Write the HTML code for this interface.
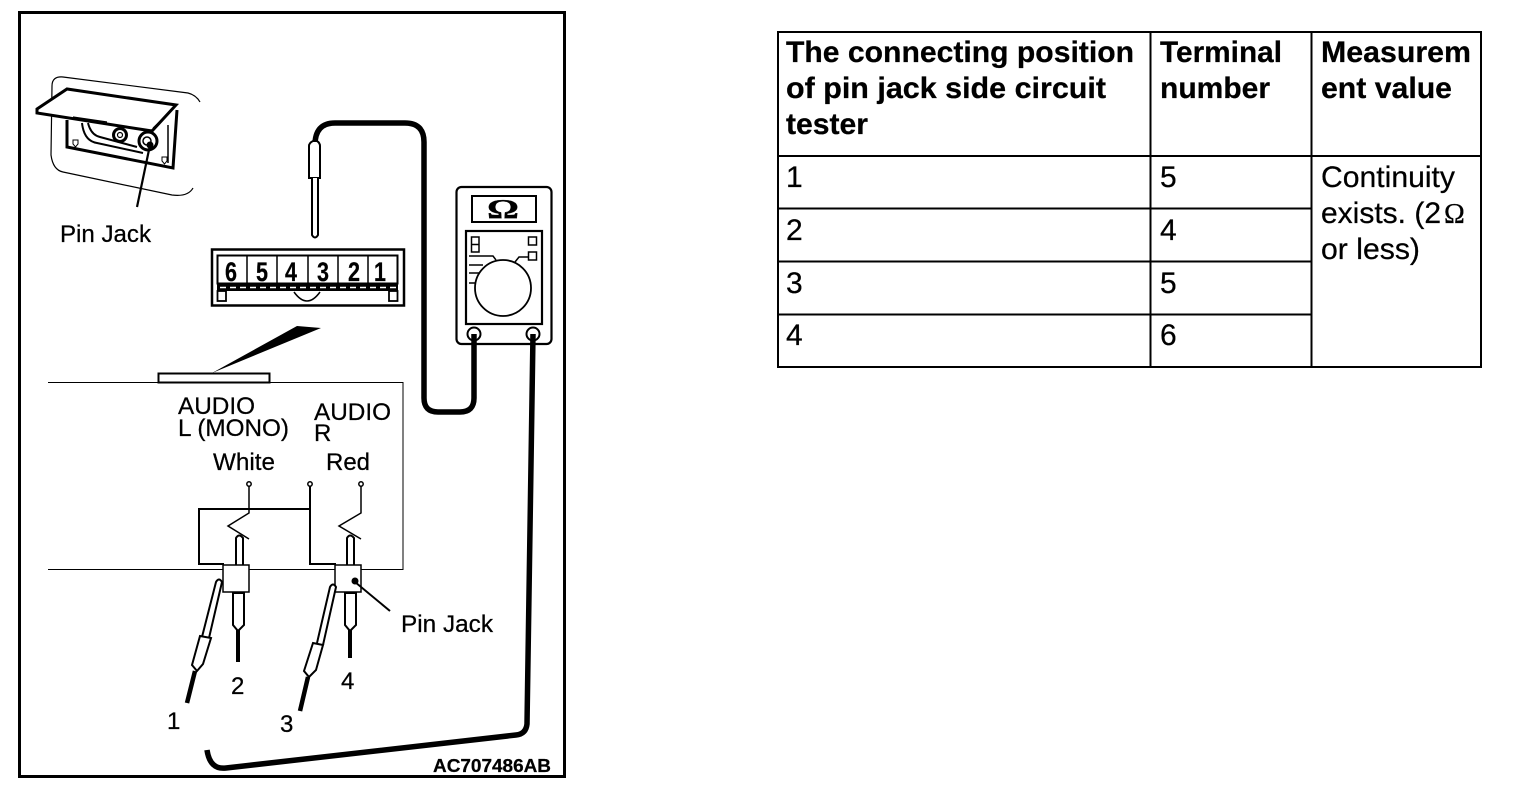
<!DOCTYPE html>
<html>
<head>
<meta charset="utf-8">
<title>Pin jack continuity check</title>
<style>
html,body{margin:0;padding:0;background:#fff;width:1520px;height:790px;overflow:hidden}
svg{display:block}
text{font-family:"Liberation Sans",sans-serif;fill:#000;stroke:#000;stroke-width:.25px}
.t{font-size:30px}
.b{font-weight:bold}
.l{font-size:24px}
</style>
</head>
<body>
<svg width="1520" height="790" viewBox="0 0 1520 790" xmlns="http://www.w3.org/2000/svg">
<rect width="1520" height="790" fill="#fff"/>

<!-- frame -->
<rect x="19.500" y="12.500" width="545" height="764" fill="none" stroke="#000" stroke-width="3"/>

<!-- pin jack panel -->
<g fill="none" stroke="#000">
  <path d="M200 102Q196 95 188 93L63 77Q52 76 52 86L51 155Q53 170 63 172L172 195Q188 197 193 188" stroke-width="1.200"/>
  <path d="M67 120V147L173 168L177 110" stroke-width="3"/>
  <path d="M168 125V163" stroke-width="1.500"/>
  <path d="M82 123Q84 141 97 143L143 153M88 123Q91 135 100 137L137 147" stroke-width="2"/>
  <circle cx="120" cy="135" r="6.500" stroke-width="3"/>
  <circle cx="120" cy="135" r="2.500" stroke-width="1.200"/>
  <circle cx="148" cy="141" r="9" stroke-width="3"/>
  <circle cx="147" cy="141" r="4" stroke-width="1.500"/>
  <path d="M73 140h5v4l-2.500 3l-2.500-3zM162 157h5v4l-2.500 3l-2.500-3z" stroke-width="1"/>
  <path d="M37 109L67 89L176 105L152 131L37 113Z" fill="#fff" stroke-width="3"/>
  <path d="M174 108L153 128" stroke-width="1"/>
  <path d="M73 117L107 122M73 119L107 124" stroke-width="1.200"/>
  <path d="M150 145L137 207" stroke-width="2.200"/>
</g>
<circle cx="150" cy="145" r="3.500" fill="#000"/>
<text class="l" x="60" y="242" textLength="91" lengthAdjust="spacingAndGlyphs">Pin Jack</text>

<!-- upper cable + probe -->
<path d="M474 338V398Q474 412 460 412H438Q424 412 424 398V142Q424 123 405 123H335Q315 123 315 145" fill="none" stroke="#000" stroke-width="5.500"/>
<path d="M309 178V146Q309 143 313 141H317Q320 143 320 146V178Z" fill="#fff" stroke="#000" stroke-width="2"/>
<path d="M312 178V235Q315 240 318 235V178" fill="#fff" stroke="#000" stroke-width="2"/>

<!-- connector -->
<g fill="none" stroke="#000">
  <rect x="212" y="249.500" width="192" height="56" stroke-width="2.500"/>
  <rect x="217.500" y="255.500" width="180" height="28" stroke-width="2"/>
  <path d="M247 255V284M277 255V284M308 255V284M338 255V284M368 255V284" stroke-width="1.500"/>
  <rect x="217" y="284" width="181" height="7" fill="#000" stroke="none"/>
  <path d="M220 287.500H396" stroke="#fff" stroke-width="1.500" stroke-dasharray="6 4"/>
  <rect x="217.500" y="291" width="8.500" height="10" stroke-width="1.800"/>
  <rect x="389" y="291" width="8.500" height="10" stroke-width="1.800"/>
  <path d="M294 292Q307 310 320 292" stroke-width="1.500"/>
</g>
<g style="font-weight:bold;font-size:27px">
  <text x="225" y="281" textLength="12" lengthAdjust="spacingAndGlyphs">6</text>
  <text x="256" y="281" textLength="12" lengthAdjust="spacingAndGlyphs">5</text>
  <text x="285" y="281" textLength="12" lengthAdjust="spacingAndGlyphs">4</text>
  <text x="317" y="281" textLength="12" lengthAdjust="spacingAndGlyphs">3</text>
  <text x="348" y="281" textLength="12" lengthAdjust="spacingAndGlyphs">2</text>
  <text x="374" y="281" textLength="12" lengthAdjust="spacingAndGlyphs">1</text>
</g>

<!-- wedge -->
<path d="M321 328L297 326L212 373Z" fill="#000"/>

<!-- unit box -->
<path d="M48 382.500H403V569.500H48" fill="none" stroke="#000" stroke-width="1"/>
<rect x="158.500" y="373.500" width="111" height="9" fill="#fff" stroke="#000" stroke-width="2"/>

<text class="l" x="178" y="414" textLength="77" lengthAdjust="spacingAndGlyphs">AUDIO</text>
<text class="l" x="178" y="436" textLength="111" lengthAdjust="spacingAndGlyphs">L (MONO)</text>
<text class="l" x="314" y="420" textLength="77" lengthAdjust="spacingAndGlyphs">AUDIO</text>
<text class="l" x="314" y="441">R</text>
<text class="l" x="213" y="470" textLength="62" lengthAdjust="spacingAndGlyphs">White</text>
<text class="l" x="326" y="470" textLength="44" lengthAdjust="spacingAndGlyphs">Red</text>

<!-- circuit -->
<g fill="none" stroke="#000">
  <circle cx="249" cy="484" r="2.200" stroke-width="1.500"/>
  <circle cx="310" cy="484" r="2.200" stroke-width="1.500"/>
  <circle cx="361" cy="484" r="2.200" stroke-width="1.500"/>
  <path d="M249 486V513L228 526L249 539" stroke-width="1.500"/>
  <path d="M361 486V513L339 526L361 539" stroke-width="1.500"/>
  <path d="M310 486V564H336" stroke-width="2"/>
  <path d="M310 509H199V564H224" stroke-width="2"/>
  <path d="M236 565V538Q239 533 243 538V565" stroke-width="2"/>
  <path d="M347 565V538Q350 533 354 538V565" stroke-width="2"/>
  <rect x="223" y="565" width="26" height="27" fill="#fff" stroke-width="1.500"/>
  <rect x="335" y="565" width="26" height="27" fill="#fff" stroke-width="1.500"/>
  <!-- lower vertical probes -->
  <path d="M233 593V625L238 631L244 625V593Z" fill="#fff" stroke-width="2"/>
  <path d="M238 630V662" stroke-width="4"/>
  <path d="M345 593V625L350 631L356 625V593Z" fill="#fff" stroke-width="2"/>
  <path d="M350 630V658" stroke-width="4"/>
  <!-- slanted probe 1 -->
  <path d="M202 637L216 582Q219 577 222 582L209 638" fill="#fff" stroke-width="2"/>
  <path d="M200 636L211 638L203 664L197 671L192 665Z" fill="#fff" stroke-width="2"/>
  <path d="M195 671L187 703" stroke-width="4.500"/>
  <!-- slanted probe 3 -->
  <path d="M317 643L330 587Q333 582 336 587L323 645" fill="#fff" stroke-width="2"/>
  <path d="M313 643L323 645L316 670L309 677L304 671Z" fill="#fff" stroke-width="2"/>
  <path d="M308 677L300 711" stroke-width="4.500"/>
  <!-- leader -->
  <path d="M355 582L390 611" stroke-width="2"/>
</g>
<circle cx="355" cy="581" r="3.500" fill="#000"/>
<text class="l" x="401" y="632" textLength="92" lengthAdjust="spacingAndGlyphs">Pin Jack</text>
<text class="l" x="167" y="729">1</text>
<text class="l" x="231" y="694">2</text>
<text class="l" x="280" y="732">3</text>
<text class="l" x="341" y="689">4</text>

<!-- multimeter -->
<g fill="none" stroke="#000">
  <rect x="456.500" y="187" width="95" height="157" rx="5" fill="#fff" stroke-width="2.200"/>
  <rect x="472" y="196" width="64" height="26" stroke-width="2"/>
  <rect x="466" y="231" width="76" height="93" stroke-width="2.200"/>
  <circle cx="503" cy="288" r="28" stroke-width="1.800"/>
  <path d="M471.500 237H479V252H471.500ZM471.500 244.500H479" stroke-width="1.500"/>
  <rect x="528.500" y="237" width="8" height="8" stroke-width="1.500"/>
  <rect x="528.500" y="252" width="8" height="8" stroke-width="1.500"/>
  <path d="M469 256H493L496 260M515 262L519 257H528M469 265H483M469 273H479M469 283H476" stroke-width="1.500"/>
  <circle cx="474" cy="334" r="6.500" fill="#fff" stroke-width="2"/>
  <circle cx="533" cy="334" r="6.500" fill="#fff" stroke-width="2"/>
</g>
<text x="487" y="218" style="font-family:'Liberation Serif',serif;font-weight:bold;font-size:27px" textLength="32" lengthAdjust="spacingAndGlyphs">Ω</text>

<!-- lower cable -->
<path d="M533 334L527 724Q526 734 516 735L226 768Q210 770 207 750" fill="none" stroke="#000" stroke-width="5.500"/>
<path d="M474 334V345" stroke="#000" stroke-width="5.500"/>

<text x="433" y="772" class="b" style="font-size:18px" textLength="118" lengthAdjust="spacingAndGlyphs">AC707486AB</text>

<!-- table -->
<g fill="none" stroke="#000" stroke-width="2">
  <rect x="778" y="32" width="703" height="335"/>
  <path d="M1150.500 32V367M1311.500 32V367M778 156H1481M778 208.500H1311M778 261.500H1311M778 314.500H1311"/>
</g>
<g class="t">
  <text class="b" x="786" y="62" textLength="348" lengthAdjust="spacingAndGlyphs">The connecting position</text>
  <text class="b" x="786" y="98" textLength="320" lengthAdjust="spacingAndGlyphs">of pin jack side circuit</text>
  <text class="b" x="786" y="134" textLength="82" lengthAdjust="spacingAndGlyphs">tester</text>
  <text class="b" x="1160" y="62" textLength="122" lengthAdjust="spacingAndGlyphs">Terminal</text>
  <text class="b" x="1160" y="98" textLength="110" lengthAdjust="spacingAndGlyphs">number</text>
  <text class="b" x="1321" y="62" textLength="150" lengthAdjust="spacingAndGlyphs">Measurem</text>
  <text class="b" x="1321" y="98" textLength="131" lengthAdjust="spacingAndGlyphs">ent value</text>
  <text x="786" y="187">1</text><text x="1160" y="187">5</text>
  <text x="786" y="240">2</text><text x="1160" y="240">4</text>
  <text x="786" y="293">3</text><text x="1160" y="293">5</text>
  <text x="786" y="345">4</text><text x="1160" y="345">6</text>
  <text x="1321" y="187" textLength="134" lengthAdjust="spacingAndGlyphs">Continuity</text>
  <text x="1321" y="223">exists. (2</text>
  <text x="1444" y="223" style="font-family:'Liberation Serif',serif;font-size:28px">Ω</text>
  <text x="1321" y="259" textLength="99" lengthAdjust="spacingAndGlyphs">or less)</text>
</g>
</svg>
</body>
</html>
